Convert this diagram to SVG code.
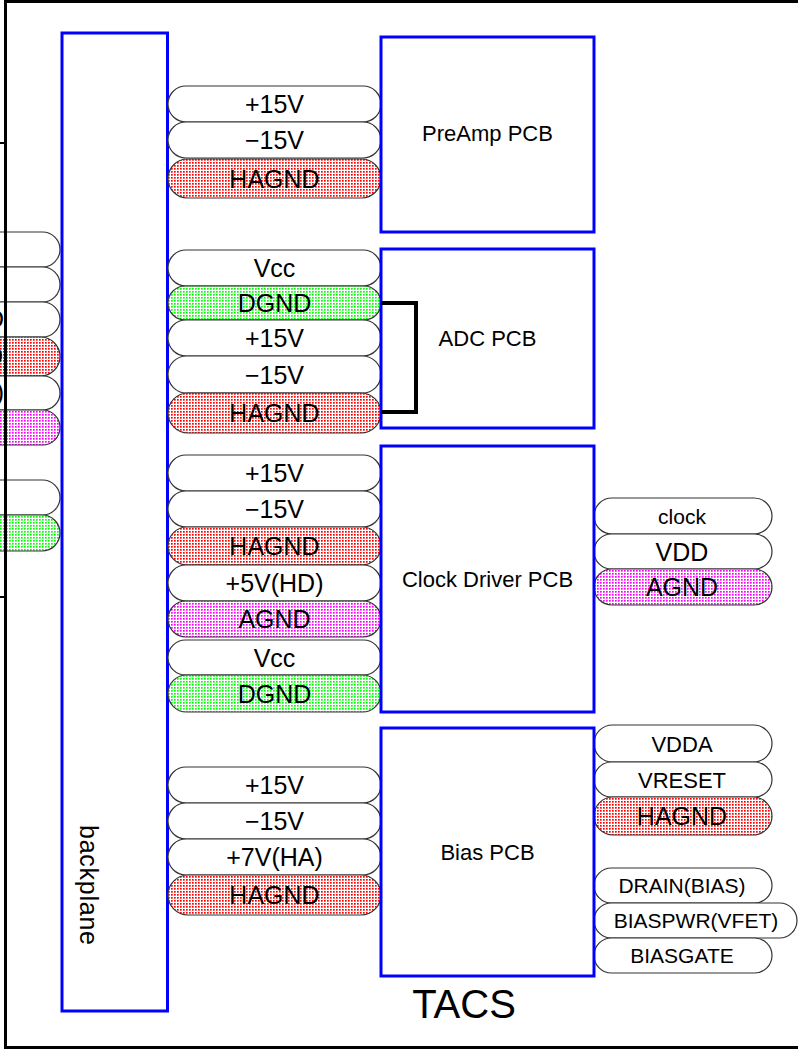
<svg xmlns="http://www.w3.org/2000/svg" width="798" height="1049" viewBox="0 0 798 1049">
<style>
.pill{stroke:#333;stroke-width:1.2}
.w{fill:#fff}
.r{fill:url(#red)}
.g{fill:url(#grn)}
.m{fill:url(#mag)}
.board{fill:#fff;stroke:#0000ff;stroke-width:3}
.t{font-family:"Liberation Sans",Arial,sans-serif;fill:#000;text-anchor:middle}
.big{font-size:25px}
.sm{font-size:21px}
.lbl{font-size:22px}
</style>
<defs>
<pattern id="red" width="3" height="3" patternUnits="userSpaceOnUse"><rect width="3" height="3" fill="#fff"/><rect width="1.7" height="1.7" fill="#ff0000"/></pattern>
<pattern id="grn" width="3" height="3" patternUnits="userSpaceOnUse"><rect width="3" height="3" fill="#fff"/><rect width="1.7" height="1.7" fill="#00ff00"/></pattern>
<pattern id="mag" width="3" height="3" patternUnits="userSpaceOnUse"><rect width="3" height="3" fill="#fff"/><rect width="1.7" height="1.7" fill="#ff00ff"/></pattern>
</defs>
<rect width="798" height="1049" fill="#fff"/>

<g id="left-partial">
<rect class="pill w" x="-100" y="232" width="160" height="35" rx="17.5"/>
<rect class="pill w" x="-100" y="267" width="160" height="35" rx="17.5"/>
<rect class="pill w" x="-100" y="302" width="160" height="35" rx="17.5"/>
<rect class="pill r" x="-100" y="337" width="160" height="39" rx="19.5"/>
<rect class="pill w" x="-100" y="376" width="160" height="34" rx="17"/>
<rect class="pill m" x="-100" y="410" width="160" height="35" rx="17.5"/>
<rect class="pill w" x="-100" y="480" width="160" height="35" rx="17.5"/>
<rect class="pill g" x="-100" y="515" width="160" height="36" rx="18"/>
<text class="t big" x="4" y="328" style="text-anchor:end">D</text>
<text class="t big" x="3" y="365" style="text-anchor:end">D</text>
<text class="t big" x="4" y="401" style="text-anchor:end">)</text>
<path d="M0 143H6M0 597H6" stroke="#000" stroke-width="2" fill="none"/>
</g>

<g id="frame">
<path d="M800 1.5H5.5V1047.5H800" fill="none" stroke="#000" stroke-width="3"/>
</g>

<g id="backplane">
<rect x="62" y="33" width="105.5" height="978" fill="#fff" stroke="#0000ff" stroke-width="3"/>
<text class="t" font-size="25" transform="translate(80,885) rotate(90)" x="0" y="0" textLength="120">backplane</text>
</g>

<g id="preamp-pins">
<rect class="pill w" x="168" y="86" width="213" height="36" rx="18"/>
<rect class="pill w" x="168" y="122" width="213" height="36" rx="18"/>
<rect class="pill r" x="168" y="159" width="213" height="39" rx="19.5"/>
<text class="t big" x="274.5" y="113">+15V</text>
<text class="t big" x="274.5" y="148.5">−15V</text>
<text class="t big" x="274.5" y="187.5">HAGND</text>
</g>

<g id="adc-pins">
<rect class="pill w" x="168" y="250" width="213" height="36" rx="18"/>
<rect class="pill g" x="168" y="286" width="213" height="34" rx="17"/>
<rect class="pill w" x="168" y="320" width="213" height="36" rx="18"/>
<rect class="pill w" x="168" y="356" width="213" height="37" rx="18.5"/>
<rect class="pill r" x="168" y="393" width="213" height="40" rx="20"/>
<text class="t big" x="274.5" y="277">Vcc</text>
<text class="t big" x="274.5" y="312">DGND</text>
<text class="t big" x="274.5" y="347">+15V</text>
<text class="t big" x="274.5" y="383.5">−15V</text>
<text class="t big" x="274.5" y="422">HAGND</text>
</g>

<g id="clock-pins">
<rect class="pill w" x="168" y="455" width="213" height="36" rx="18"/>
<rect class="pill w" x="168" y="491" width="213" height="36" rx="18"/>
<rect class="pill r" x="168" y="527" width="213" height="38" rx="19"/>
<rect class="pill w" x="168" y="565" width="213" height="36" rx="18"/>
<rect class="pill m" x="168" y="601" width="213" height="36" rx="18"/>
<rect class="pill w" x="168" y="640" width="213" height="35" rx="17.5"/>
<rect class="pill g" x="168" y="675" width="213" height="37" rx="18.5"/>
<text class="t big" x="274.5" y="481.5">+15V</text>
<text class="t big" x="274.5" y="517.5">−15V</text>
<text class="t big" x="274.5" y="555">HAGND</text>
<text class="t big" x="274.5" y="592">+5V(HD)</text>
<text class="t big" x="274.5" y="628">AGND</text>
<text class="t big" x="274.5" y="666.5">Vcc</text>
<text class="t big" x="274.5" y="702.5">DGND</text>
</g>

<g id="bias-pins">
<rect class="pill w" x="168" y="767" width="213" height="36" rx="18"/>
<rect class="pill w" x="168" y="803" width="213" height="36" rx="18"/>
<rect class="pill w" x="168" y="839" width="213" height="36" rx="18"/>
<rect class="pill r" x="168" y="875" width="213" height="40" rx="20"/>
<text class="t big" x="274.5" y="794">+15V</text>
<text class="t big" x="274.5" y="830">−15V</text>
<text class="t big" x="274.5" y="866">+7V(HA)</text>
<text class="t big" x="274.5" y="904">HAGND</text>
</g>

<g id="clock-out-pins">
<rect class="pill w" x="594" y="498" width="178" height="36" rx="18"/>
<rect class="pill w" x="594" y="534" width="178" height="35" rx="17.5"/>
<rect class="pill m" x="594" y="569" width="178" height="36" rx="18"/>
<text class="t sm" x="682" y="523.5">clock</text>
<text class="t big" x="682" y="560.5">VDD</text>
<text class="t big" x="682" y="596">AGND</text>
</g>

<g id="bias-out-pins">
<rect class="pill w" x="594" y="725" width="178" height="37" rx="18.5"/>
<rect class="pill w" x="594" y="762" width="178" height="35" rx="17.5"/>
<rect class="pill r" x="594" y="797" width="178" height="38" rx="19"/>
<rect class="pill w" x="594" y="868" width="178" height="35" rx="17.5"/>
<rect class="pill w" x="594" y="903" width="203" height="35" rx="17.5"/>
<rect class="pill w" x="594" y="938" width="178" height="35" rx="17.5"/>
<text class="t" font-size="22" x="682" y="751.5">VDDA</text>
<text class="t" font-size="22" x="682" y="787.5">VRESET</text>
<text class="t big" x="682" y="825">HAGND</text>
<text class="t sm" x="682" y="892.5">DRAIN(BIAS)</text>
<text class="t sm" x="696" y="928">BIASPWR(VFET)</text>
<text class="t sm" x="682" y="963">BIASGATE</text>
</g>

<g id="preamp-pcb">
<rect class="board" x="381" y="37" width="213" height="195"/>
<text class="t lbl" x="487.5" y="141">PreAmp PCB</text>
</g>
<g id="adc-pcb">
<rect class="board" x="381" y="249" width="213" height="179" style="fill:none"/>
<text class="t lbl" x="487.5" y="346">ADC PCB</text>
</g>
<g id="clock-pcb">
<rect class="board" x="381" y="446" width="213" height="266"/>
<text class="t lbl" x="487.5" y="587">Clock Driver PCB</text>
</g>
<g id="bias-pcb">
<rect class="board" x="381" y="728" width="213" height="248"/>
<text class="t lbl" x="487.5" y="860">Bias PCB</text>
</g>

<g id="connectors">
<polyline points="381,303 416,303 416,412 381,412" fill="none" stroke="#000" stroke-width="4"/>
</g>

<text class="t" font-size="40" x="464" y="1018">TACS</text>
</svg>
